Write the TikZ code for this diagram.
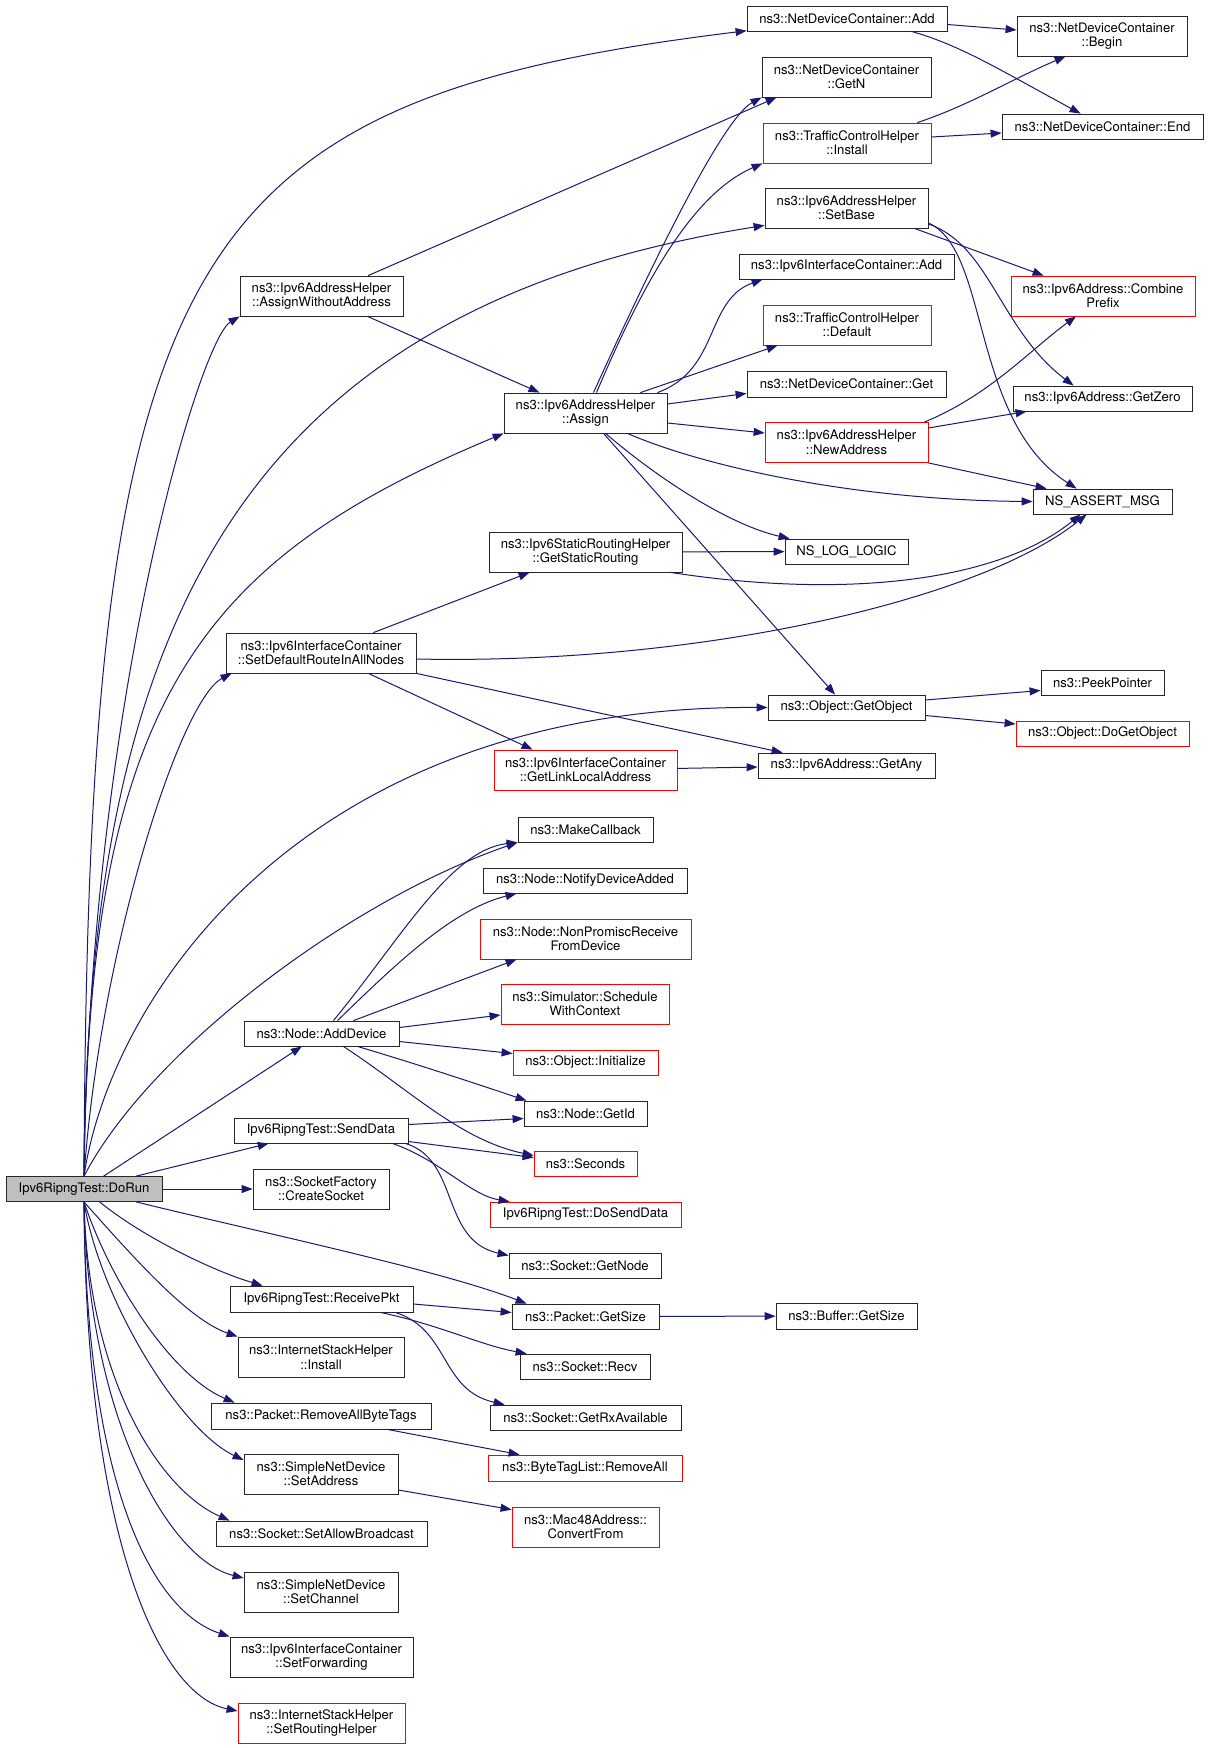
\documentclass[tikz,border=0pt]{standalone}
\usepackage{fontspec}
\setmainfont{TeX Gyre Heros}
\usetikzlibrary{calc,arrows.meta}
\definecolor{edgeblue}{HTML}{191970}
\newcommand{\dxfont}{\fontsize{13.1}{14.4}\selectfont}

\begin{document}
\begin{tikzpicture}[x=1pt,y=-1pt,every node/.style={draw=black!85,fill=white,line width=0.8pt,inner sep=0pt,align=center,minimum height=25,font=\dxfont}]
      \tikzstyle{two}=[minimum height=40]
      \tikzstyle{miss}=[draw=red]
      \tikzstyle{call}=[draw=edgeblue,line width=1pt,-{Triangle[length=11pt,width=8pt]}]

      \fill[white] (0,0) rectangle (1208,1748);
      \useasboundingbox (0,0) rectangle (1208,1748);

      % caller
      \node (do) at (84,1189) [fill=black!25,minimum width=156] {Ipv6RipngTest::DoRun};

      % second column
      \node (awa) at (321.5,296) [two,minimum width=163] {ns3::Ipv6AddressHelper\\::AssignWithoutAddress};
      \node (sdr) at (321,653) [two,minimum width=190] {ns3::Ipv6InterfaceContainer\\::SetDefaultRouteInAllNodes};
      \node (adddev) at (321.5,1033.5) [minimum width=155] {ns3::Node::AddDevice};
      \node (senddata) at (321,1130.5) [minimum width=174] {Ipv6RipngTest::SendData};
      \node (createsock) at (321,1189) [two,minimum width=136] {ns3::SocketFactory\\::CreateSocket};
      \node (recvpkt) at (321.5,1299) [minimum width=183,minimum height=26] {Ipv6RipngTest::ReceivePkt};
      \node (isinstall) at (321,1357) [two,minimum width=166] {ns3::InternetStackHelper\\::Install};
      \node (rmtags) at (321,1416) [minimum width=220,minimum height=26] {ns3::Packet::RemoveAllByteTags};
      \node (setaddr) at (321,1474) [two,minimum width=154] {ns3::SimpleNetDevice\\::SetAddress};
      \node (setbcast) at (321.5,1533.5) [minimum width=211] {ns3::Socket::SetAllowBroadcast};
      \node (setchan) at (321,1592) [two,minimum width=154] {ns3::SimpleNetDevice\\::SetChannel};
      \node (setfwd) at (321.5,1657) [two,minimum width=183] {ns3::Ipv6InterfaceContainer\\::SetForwarding};
      \node (setrouting) at (321.5,1723) [two,miss,minimum width=167] {ns3::InternetStackHelper\\::SetRoutingHelper};

      % third column
      \node (assign) at (585.5,413) [two,minimum width=163] {ns3::Ipv6AddressHelper\\::Assign};
      \node (static) at (585.5,552) [two,minimum width=193] {ns3::Ipv6StaticRoutingHelper\\::GetStaticRouting};
      \node (lla) at (585.5,770) [two,miss,minimum width=183] {ns3::Ipv6InterfaceContainer\\::GetLinkLocalAddress};
      \node (makecb) at (585.5,829.5) [minimum width=135] {ns3::MakeCallback};
      \node (notify) at (585,880.5) [minimum width=204] {ns3::Node::NotifyDeviceAdded};
      \node (nonprom) at (585.5,939) [two,miss,minimum width=211] {ns3::Node::NonPromiscReceive\\FromDevice};
      \node (sched) at (585,1004) [two,miss,minimum width=168] {ns3::Simulator::Schedule\\WithContext};
      \node (init) at (585.5,1062.5) [miss,minimum width=145] {ns3::Object::Initialize};
      \node (getid) at (585.5,1113.5) [minimum width=123] {ns3::Node::GetId};
      \node (seconds) at (585.5,1163.5) [miss,minimum width=103] {ns3::Seconds};
      \node (dosend) at (585.5,1214.5) [miss,minimum width=191] {Ipv6RipngTest::DoSendData};
      \node (sockgetnode) at (585,1265.5) [minimum width=152] {ns3::Socket::GetNode};
      \node (pktsize) at (585.5,1316.5) [minimum width=147] {ns3::Packet::GetSize};
      \node (recv) at (585,1366.5) [minimum width=130] {ns3::Socket::Recv};
      \node (rxavail) at (585.5,1417.5) [minimum width=191] {ns3::Socket::GetRxAvailable};
      \node (rmall) at (585,1468) [miss,minimum width=194,minimum height=26] {ns3::ByteTagList::RemoveAll};
      \node (mac48) at (585.5,1527) [two,miss,minimum width=147] {ns3::Mac48Address::\\ConvertFrom};

      % fourth column
      \node (add) at (847,18.5) [minimum width=200] {ns3::NetDeviceContainer::Add};
      \node (getn) at (846.5,77) [two,minimum width=169] {ns3::NetDeviceContainer\\::GetN};
      \node (tcinst) at (847,143) [two,miss,minimum width=168] {ns3::TrafficControlHelper\\::Install};
      \node (setbase) at (846.5,208) [two,minimum width=163] {ns3::Ipv6AddressHelper\\::SetBase};
      \node (icadd) at (846.5,266.5) [minimum width=215] {ns3::Ipv6InterfaceContainer::Add};
      \node (tcdef) at (847,325) [two,miss,minimum width=168] {ns3::TrafficControlHelper\\::Default};
      \node (ndcget) at (846.5,384) [minimum width=199,minimum height=26] {ns3::NetDeviceContainer::Get};
      \node (newaddr) at (846.5,442.5) [two,miss,minimum width=163] {ns3::Ipv6AddressHelper\\::NewAddress};
      \node (logic) at (846.5,551.5) [minimum width=123] {NS\_LOG\_LOGIC};
      \node (getobj) at (846.5,707.5) [minimum width=157] {ns3::Object::GetObject};
      \node (getany) at (846.5,765.5) [minimum width=177] {ns3::Ipv6Address::GetAny};
      \node (bufsize) at (846.5,1316) [minimum width=141,minimum height=26] {ns3::Buffer::GetSize};

      % fifth column
      \node (begin) at (1102,36) [two,minimum width=170] {ns3::NetDeviceContainer\\::Begin};
      \node (end) at (1102.5,126.5) [minimum width=201] {ns3::NetDeviceContainer::End};
      \node (combine) at (1103,296) [two,miss,minimum width=184] {ns3::Ipv6Address::Combine\\Prefix};
      \node (getzero) at (1102.5,398.5) [minimum width=179] {ns3::Ipv6Address::GetZero};
      \node (assert) at (1102.5,501.5) [minimum width=139] {NS\_ASSERT\_MSG};
      \node (peek) at (1102.5,682.5) [minimum width=123] {ns3::PeekPointer};
      \node (dogetobj) at (1102.5,733.5) [miss,minimum width=173] {ns3::Object::DoGetObject};

      % calls made by DoRun
      \draw[call] (do.north) .. controls (88,250) and (180,100) .. (add);
      \draw[call] (do.north) .. controls (90,700) and (200,340) .. (awa.south west);
      \draw[call] (do.north) .. controls (88,640) and (230,310) .. ($(setbase.south west)+(0,-3)$);
      \draw[call] (do.north) .. controls (88,700) and (200,560) .. (assign.south west);
      \draw[call] (do.north) .. controls (100,950) and (180,700) .. ($(sdr.south west)+(6,0)$);
      \draw[call] (do.north) .. controls (110,1000) and (300,705) .. (getobj.west);
      \draw[call] (do.north) .. controls (150,1050) and (350,900) .. (makecb.south west);
      \draw[call] (do) -- (adddev);
      \draw[call] (do) -- (senddata);
      \draw[call] (do) -- (createsock);
      \draw[call] (do) .. controls (250,1230) and (440,1270) .. ($(pktsize.north west)+(15,0)$);
      \draw[call] (do) .. controls (140,1235) and (210,1270) .. ($(recvpkt.north west)+(33,0)$);
      \draw[call] (do.south) .. controls (140,1265) and (190,1320) .. (isinstall.north west);
      \draw[call] (do.south) .. controls (110,1280) and (170,1375) .. ($(rmtags.north west)+(24,0)$);
      \draw[call] (do.south) .. controls (100,1300) and (180,1430) .. ($(setaddr.west)+(0,-14)$);
      \draw[call] (do.south) .. controls (88,1380) and (160,1490) .. ($(setbcast.north west)+(14,0)$);
      \draw[call] (do.south) .. controls (88,1420) and (170,1560) .. ($(setchan.west)+(0,-14)$);
      \draw[call] (do.south) .. controls (86,1480) and (150,1610) .. (setfwd.north west);
      \draw[call] (do.south) .. controls (86,1540) and (160,1695) .. ($(setrouting.west)+(0,-12)$);

      % address helpers
      \draw[call] (awa) -- ($(getn.south west)+(15,0)$);
      \draw[call] (awa) -- (assign);
      \draw[call] ($(assign.north)+(8,0)$) .. controls (640,290) and (720,120) .. (getn.south west);
      \draw[call] ($(assign.north)+(11,0)$) .. controls (640,290) and (690,195) .. (tcinst.south west);
      \draw[call] ($(assign.north east)+(-10,0)$) .. controls (720,370) and (705,300) .. ($(icadd.south west)+(24,0)$);
      \draw[call] ($(assign.north east)+(-27,0)$) -- ($(tcdef.south west)+(15,0)$);
      \draw[call] ($(assign.east)+(0,-9)$) -- ($(ndcget.south west)+(0,-4)$);
      \draw[call] ($(assign.east)+(0,10)$) -- ($(newaddr.west)+(0,-9.5)$);
      \draw[call] ($(assign.south east)+(-40,0)$) .. controls (700,465) and (850,500) .. (assert.west);
      \draw[call] ($(assign.south)+(20,0)$) .. controls (660,480) and (730,525) .. ($(logic.north west)+(5,0)$);
      \draw[call] (assign) -- (getobj);
      \draw[call] ($(setbase.south east)+(-14,0)$) -- ($(combine.north west)+(33,0)$);
      \draw[call] ($(setbase.east)+(0,16)$) .. controls (990,245) and (1000,330) .. ($(getzero.north west)+(61,0)$);
      \draw[call] ($(setbase.east)+(0,15)$) .. controls (990,250) and (970,420) .. ($(assert.north west)+(44,0)$);
      \draw[call] ($(newaddr.north east)+(-4,0)$) .. controls (990,395) and (1030,350) .. ($(combine.south)+(-27,0)$);
      \draw[call] ($(newaddr.east)+(0,-14.5)$) -- ($(getzero.south west)+(14,0)$);
      \draw[call] (newaddr.south east) -- ($(assert.north west)+(14,0)$);

      % containers
      \draw[call] ($(add.east)+(0,6)$) -- ($(begin.west)+(0,-6)$);
      \draw[call] ($(add.south east)+(-36,0)$) .. controls (960,45) and (1000,70) .. ($(end.north west)+(79,0)$);
      \draw[call] ($(tcinst.north east)+(-14,0)$) .. controls (970,105) and (1010,80) .. ($(begin.south west)+(49,0)$);
      \draw[call] ($(tcinst.east)+(0,-6)$) -- ($(end.west)+(0,6.5)$);

      % routing
      \draw[call] (static) -- (logic);
      \draw[call] ($(static.south east)+(-12,0)$) .. controls (850,600) and (1000,580) .. ($(assert.south west)+(48,0)$);
      \draw[call] ($(sdr.north east)+(-43,0)$) -- ($(static.south west)+(41,0)$);
      \draw[call] ($(sdr.east)+(0,6)$) .. controls (700,665) and (980,600) .. ($(assert.south west)+(54,0)$);
      \draw[call] ($(sdr.south east)+(-48,0)$) -- ($(lla.north west)+(39,0)$);
      \draw[call] (sdr.south east) -- ($(getany.north west)+(25,0)$);
      \draw[call] (lla) -- (getany);
      \draw[call] ($(getobj.east)+(0,-7.5)$) -- ($(peek.west)+(0,8)$);
      \draw[call] ($(getobj.east)+(0,8)$) -- ($(dogetobj.west)+(0,-9.5)$);

      % node and sockets
      \draw[call] ($(adddev.north east)+(-66,0)$) .. controls (400,940) and (450,850) .. (makecb.south west);
      \draw[call] ($(adddev.north east)+(-62,0)$) .. controls (390,970) and (450,910) .. ($(notify.south west)+(34,0)$);
      \draw[call] ($(adddev.north east)+(-46,0)$) -- ($(nonprom.south west)+(37,0)$);
      \draw[call] ($(adddev.east)+(0,-6)$) -- ($(sched.west)+(0,11)$);
      \draw[call] ($(adddev.east)+(0,8)$) -- ($(init.west)+(0,-9)$);
      \draw[call] ($(adddev.south east)+(-42,0)$) .. controls (420,1065) and (480,1085) .. ($(getid.north west)+(3,0)$);
      \draw[call] ($(adddev.south east)+(-56,0)$) .. controls (410,1090) and (460,1140) .. ($(seconds.west)+(0,-8)$);
      \draw[call] ($(senddata.east)+(0,-6)$) -- ($(getid.west)+(0,5)$);
      \draw[call] ($(senddata.east)+(0,11)$) -- ($(seconds.west)+(0,-6)$);
      \draw[call] ($(senddata.south east)+(-16,0)$) .. controls (440,1160) and (470,1195) .. ($(dosend.north west)+(20,0)$);
      \draw[call] ($(senddata.south east)+(-3,0)$) .. controls (460,1160) and (440,1240) .. ($(sockgetnode.west)+(0,-10)$);
      \draw[call] ($(recvpkt.east)+(0,5)$) -- ($(pktsize.west)+(0,-4)$);
      \draw[call] ($(recvpkt.south east)+(-33,0)$) .. controls (440,1325) and (480,1345) .. ($(recv.north west)+(7,0)$);
      \draw[call] ($(recvpkt.south east)+(-18,0)$) .. controls (450,1330) and (440,1390) .. ($(rxavail.north west)+(15,0)$);
      \draw[call] (pktsize) -- (bufsize);
      \draw[call] ($(rmtags.south east)+(-44,0)$) -- ($(rmall.north west)+(32,0)$);
      \draw[call] ($(setaddr.east)+(0,16)$) -- ($(mac48.north west)+(0,3)$);
\end{tikzpicture}
\end{document}
